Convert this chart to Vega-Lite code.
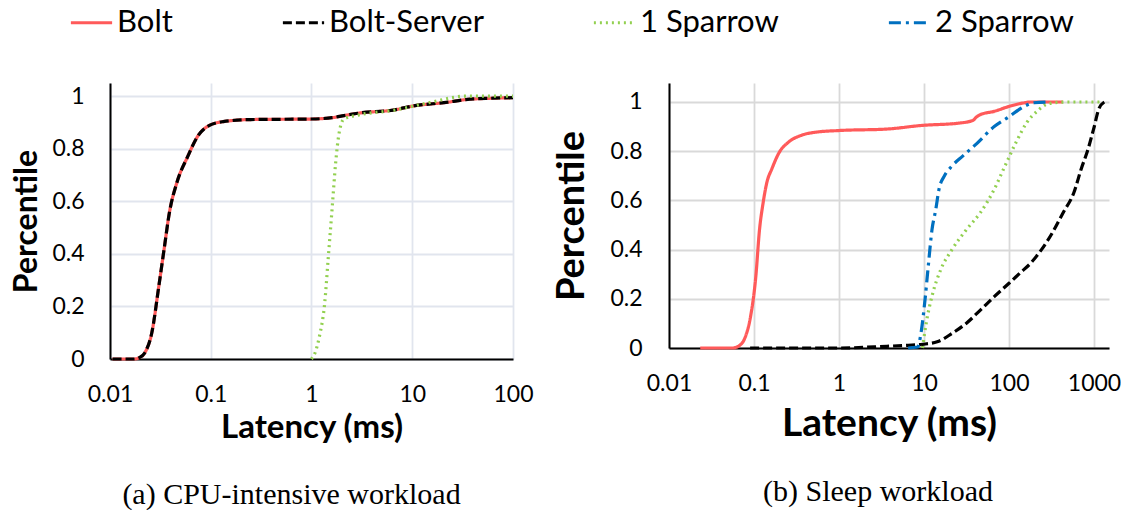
{
  "$schema": "https://vega.github.io/schema/vega-lite/v6.json",
  "background": "white",
  "padding": {"left": 10, "top": 0, "right": 0, "bottom": 0},
  "spacing": 19,
  "datasets": {
    "cpu": [
      {"series": "Bolt", "latency": 0.0106, "pct": 0},
      {"series": "Bolt", "latency": 0.0173, "pct": 0},
      {"series": "Bolt", "latency": 0.0195, "pct": 0.005},
      {"series": "Bolt", "latency": 0.0221, "pct": 0.023},
      {"series": "Bolt", "latency": 0.026, "pct": 0.1},
      {"series": "Bolt", "latency": 0.0306, "pct": 0.28},
      {"series": "Bolt", "latency": 0.0345, "pct": 0.42},
      {"series": "Bolt", "latency": 0.039, "pct": 0.56},
      {"series": "Bolt", "latency": 0.046, "pct": 0.67},
      {"series": "Bolt", "latency": 0.059, "pct": 0.77},
      {"series": "Bolt", "latency": 0.075, "pct": 0.85},
      {"series": "Bolt", "latency": 0.096, "pct": 0.888},
      {"series": "Bolt", "latency": 0.133, "pct": 0.903},
      {"series": "Bolt", "latency": 0.25, "pct": 0.911},
      {"series": "Bolt", "latency": 1.0, "pct": 0.913},
      {"series": "Bolt", "latency": 1.6, "pct": 0.918},
      {"series": "Bolt", "latency": 2.1, "pct": 0.926},
      {"series": "Bolt", "latency": 2.9, "pct": 0.935},
      {"series": "Bolt", "latency": 6.7, "pct": 0.948},
      {"series": "Bolt", "latency": 10, "pct": 0.962},
      {"series": "Bolt", "latency": 22.6, "pct": 0.977},
      {"series": "Bolt", "latency": 34, "pct": 0.987},
      {"series": "Bolt", "latency": 60, "pct": 0.992},
      {"series": "Bolt", "latency": 100, "pct": 0.994},
      {"series": "Bolt-Server", "latency": 0.0106, "pct": 0},
      {"series": "Bolt-Server", "latency": 0.0173, "pct": 0},
      {"series": "Bolt-Server", "latency": 0.0195, "pct": 0.005},
      {"series": "Bolt-Server", "latency": 0.0221, "pct": 0.023},
      {"series": "Bolt-Server", "latency": 0.026, "pct": 0.1},
      {"series": "Bolt-Server", "latency": 0.0306, "pct": 0.28},
      {"series": "Bolt-Server", "latency": 0.0345, "pct": 0.42},
      {"series": "Bolt-Server", "latency": 0.039, "pct": 0.56},
      {"series": "Bolt-Server", "latency": 0.046, "pct": 0.67},
      {"series": "Bolt-Server", "latency": 0.059, "pct": 0.77},
      {"series": "Bolt-Server", "latency": 0.075, "pct": 0.85},
      {"series": "Bolt-Server", "latency": 0.096, "pct": 0.888},
      {"series": "Bolt-Server", "latency": 0.133, "pct": 0.903},
      {"series": "Bolt-Server", "latency": 0.25, "pct": 0.911},
      {"series": "Bolt-Server", "latency": 1.0, "pct": 0.913},
      {"series": "Bolt-Server", "latency": 1.6, "pct": 0.918},
      {"series": "Bolt-Server", "latency": 2.1, "pct": 0.926},
      {"series": "Bolt-Server", "latency": 2.9, "pct": 0.935},
      {"series": "Bolt-Server", "latency": 6.7, "pct": 0.948},
      {"series": "Bolt-Server", "latency": 10, "pct": 0.962},
      {"series": "Bolt-Server", "latency": 22.6, "pct": 0.977},
      {"series": "Bolt-Server", "latency": 34, "pct": 0.987},
      {"series": "Bolt-Server", "latency": 60, "pct": 0.992},
      {"series": "Bolt-Server", "latency": 100, "pct": 0.994},
      {"series": "1 Sparrow", "latency": 1.0, "pct": 0},
      {"series": "1 Sparrow", "latency": 1.1, "pct": 0.03},
      {"series": "1 Sparrow", "latency": 1.2, "pct": 0.087},
      {"series": "1 Sparrow", "latency": 1.35, "pct": 0.21},
      {"series": "1 Sparrow", "latency": 1.47, "pct": 0.39},
      {"series": "1 Sparrow", "latency": 1.6, "pct": 0.57},
      {"series": "1 Sparrow", "latency": 1.74, "pct": 0.75},
      {"series": "1 Sparrow", "latency": 1.88, "pct": 0.86},
      {"series": "1 Sparrow", "latency": 2.1, "pct": 0.913},
      {"series": "1 Sparrow", "latency": 2.9, "pct": 0.928},
      {"series": "1 Sparrow", "latency": 6.7, "pct": 0.947},
      {"series": "1 Sparrow", "latency": 15.4, "pct": 0.977},
      {"series": "1 Sparrow", "latency": 34, "pct": 1.0},
      {"series": "1 Sparrow", "latency": 100, "pct": 1.0}
    ],
    "sleep": [
      {"series": "Bolt", "latency": 0.0233, "pct": 0},
      {"series": "Bolt", "latency": 0.056, "pct": 0},
      {"series": "Bolt", "latency": 0.068, "pct": 0.011},
      {"series": "Bolt", "latency": 0.079, "pct": 0.045},
      {"series": "Bolt", "latency": 0.091, "pct": 0.127},
      {"series": "Bolt", "latency": 0.105, "pct": 0.29},
      {"series": "Bolt", "latency": 0.116, "pct": 0.48},
      {"series": "Bolt", "latency": 0.128, "pct": 0.59},
      {"series": "Bolt", "latency": 0.141, "pct": 0.67},
      {"series": "Bolt", "latency": 0.163, "pct": 0.73},
      {"series": "Bolt", "latency": 0.198, "pct": 0.795},
      {"series": "Bolt", "latency": 0.253, "pct": 0.836},
      {"series": "Bolt", "latency": 0.356, "pct": 0.864},
      {"series": "Bolt", "latency": 0.525, "pct": 0.877},
      {"series": "Bolt", "latency": 1.0, "pct": 0.884},
      {"series": "Bolt", "latency": 3.65, "pct": 0.89},
      {"series": "Bolt", "latency": 9.6, "pct": 0.905},
      {"series": "Bolt", "latency": 25.5, "pct": 0.914},
      {"series": "Bolt", "latency": 37.6, "pct": 0.925},
      {"series": "Bolt", "latency": 41.4, "pct": 0.939},
      {"series": "Bolt", "latency": 45.6, "pct": 0.948},
      {"series": "Bolt", "latency": 67, "pct": 0.962},
      {"series": "Bolt", "latency": 100, "pct": 0.982},
      {"series": "Bolt", "latency": 147, "pct": 0.996},
      {"series": "Bolt", "latency": 180, "pct": 1.0},
      {"series": "Bolt", "latency": 430, "pct": 1.0},
      {"series": "Bolt-Server", "latency": 0.09, "pct": 0},
      {"series": "Bolt-Server", "latency": 1, "pct": 0},
      {"series": "Bolt-Server", "latency": 3.65, "pct": 0.007},
      {"series": "Bolt-Server", "latency": 6.5, "pct": 0.011},
      {"series": "Bolt-Server", "latency": 9.6, "pct": 0.015},
      {"series": "Bolt-Server", "latency": 14.3, "pct": 0.025},
      {"series": "Bolt-Server", "latency": 21.3, "pct": 0.059},
      {"series": "Bolt-Server", "latency": 31.3, "pct": 0.1},
      {"series": "Bolt-Server", "latency": 46, "pct": 0.154},
      {"series": "Bolt-Server", "latency": 67, "pct": 0.209},
      {"series": "Bolt-Server", "latency": 100, "pct": 0.263},
      {"series": "Bolt-Server", "latency": 134, "pct": 0.304},
      {"series": "Bolt-Server", "latency": 180, "pct": 0.345},
      {"series": "Bolt-Server", "latency": 241, "pct": 0.4},
      {"series": "Bolt-Server", "latency": 323, "pct": 0.468},
      {"series": "Bolt-Server", "latency": 433, "pct": 0.55},
      {"series": "Bolt-Server", "latency": 580, "pct": 0.632},
      {"series": "Bolt-Server", "latency": 705, "pct": 0.727},
      {"series": "Bolt-Server", "latency": 852, "pct": 0.809},
      {"series": "Bolt-Server", "latency": 990, "pct": 0.891},
      {"series": "Bolt-Server", "latency": 1143, "pct": 0.973},
      {"series": "Bolt-Server", "latency": 1320, "pct": 1.0},
      {"series": "1 Sparrow", "latency": 9.6, "pct": 0},
      {"series": "1 Sparrow", "latency": 10.6, "pct": 0.1},
      {"series": "1 Sparrow", "latency": 12.4, "pct": 0.21},
      {"series": "1 Sparrow", "latency": 15.8, "pct": 0.32},
      {"series": "1 Sparrow", "latency": 21.3, "pct": 0.4},
      {"series": "1 Sparrow", "latency": 31.3, "pct": 0.48},
      {"series": "1 Sparrow", "latency": 46, "pct": 0.55},
      {"series": "1 Sparrow", "latency": 67, "pct": 0.645},
      {"series": "1 Sparrow", "latency": 89.6, "pct": 0.74},
      {"series": "1 Sparrow", "latency": 121, "pct": 0.836},
      {"series": "1 Sparrow", "latency": 163, "pct": 0.918},
      {"series": "1 Sparrow", "latency": 220, "pct": 0.966},
      {"series": "1 Sparrow", "latency": 290, "pct": 0.993},
      {"series": "1 Sparrow", "latency": 475, "pct": 1.0},
      {"series": "1 Sparrow", "latency": 1240, "pct": 1.0},
      {"series": "2 Sparrow", "latency": 6.5, "pct": 0},
      {"series": "2 Sparrow", "latency": 8.4, "pct": 0.004},
      {"series": "2 Sparrow", "latency": 9.3, "pct": 0.07},
      {"series": "2 Sparrow", "latency": 10.3, "pct": 0.2},
      {"series": "2 Sparrow", "latency": 11.2, "pct": 0.33},
      {"series": "2 Sparrow", "latency": 12.4, "pct": 0.48},
      {"series": "2 Sparrow", "latency": 13.7, "pct": 0.56},
      {"series": "2 Sparrow", "latency": 15, "pct": 0.645},
      {"series": "2 Sparrow", "latency": 17.4, "pct": 0.7},
      {"series": "2 Sparrow", "latency": 21.3, "pct": 0.74},
      {"series": "2 Sparrow", "latency": 28.5, "pct": 0.78},
      {"series": "2 Sparrow", "latency": 41.4, "pct": 0.83},
      {"series": "2 Sparrow", "latency": 67, "pct": 0.9},
      {"series": "2 Sparrow", "latency": 100, "pct": 0.94},
      {"series": "2 Sparrow", "latency": 147, "pct": 0.98},
      {"series": "2 Sparrow", "latency": 197, "pct": 0.997},
      {"series": "2 Sparrow", "latency": 290, "pct": 1.0}
    ]
  },
  "hconcat": [
    {
      "width": 403,
      "height": 276,
      "data": {"name": "cpu"},
      "title": {"text": "(a) CPU-intensive workload", "orient": "bottom", "frame": "group", "anchor": "middle", "dx": -20, "offset": 36, "font": "Liberation Serif", "fontSize": 30, "fontWeight": "normal", "color": "black"},
      "mark": {"type": "line", "strokeWidth": 3.2, "interpolate": "monotone"},
      "encoding": {
        "x": {"field": "latency", "type": "quantitative", "scale": {"type": "log", "domain": [0.01, 100], "nice": false},
          "axis": {"title": "Latency (ms)", "values": [0.01, 0.1, 1, 10, 100], "format": "~g", "labelPadding": 24, "titlePadding": 5, "titleFontSize": 33, "gridColor": "#e1e5ee"}},
        "y": {"field": "pct", "type": "quantitative", "scale": {"domain": [0, 1.05], "nice": false, "zero": true},
          "axis": {"title": "Percentile", "values": [0, 0.2, 0.4, 0.6, 0.8, 1], "format": "~g", "labelPadding": 26, "titlePadding": 8, "titleFontSize": 32, "gridColor": "#e1e5ee"}},
        "color": {"field": "series", "type": "nominal",
          "scale": {"domain": ["Bolt", "Bolt-Server", "1 Sparrow", "2 Sparrow"], "range": ["#ff5a5a", "#000000", "#92d050", "#0070c0"]},
          "legend": {"orient": "none", "legendX": -41, "legendY": -83, "direction": "horizontal", "title": null}},
        "strokeDash": {"field": "series", "type": "nominal",
          "scale": {"domain": ["Bolt", "Bolt-Server", "1 Sparrow", "2 Sparrow"], "range": [[1, 0], [9, 4], [2, 4], [12, 5, 3, 5]]},
          "legend": {"orient": "none", "legendX": -41, "legendY": -83, "direction": "horizontal", "title": null}}
      }
    },
    {
      "width": 440,
      "height": 265,
      "data": {"name": "sleep"},
      "title": {"text": "(b) Sleep workload", "orient": "bottom", "frame": "group", "anchor": "middle", "dx": -11, "offset": 34, "font": "Liberation Serif", "fontSize": 30, "fontWeight": "normal", "color": "black"},
      "mark": {"type": "line", "strokeWidth": 3.2, "interpolate": "monotone"},
      "encoding": {
        "x": {"field": "latency", "type": "quantitative", "scale": {"type": "log", "domain": [0.01, 1500], "nice": false},
          "axis": {"title": "Latency (ms)", "values": [0.01, 0.1, 1, 10, 100, 1000], "format": "~g", "labelPadding": 24, "titlePadding": 9, "titleFontSize": 39, "gridColor": "#d9d9d9"}},
        "y": {"field": "pct", "type": "quantitative", "scale": {"domain": [0, 1.0772], "nice": false, "zero": true},
          "axis": {"title": "Percentile", "values": [0, 0.2, 0.4, 0.6, 0.8, 1], "format": "~g", "labelPadding": 27, "titlePadding": 18, "titleFontSize": 38, "gridColor": "#d9d9d9"}},
        "color": {"field": "series", "type": "nominal",
          "scale": {"domain": ["Bolt", "Bolt-Server", "1 Sparrow", "2 Sparrow"], "range": ["#ff5a5a", "#000000", "#92d050", "#0070c0"]},
          "legend": {"orient": "none", "legendX": -41, "legendY": -83, "direction": "horizontal", "title": null}},
        "strokeDash": {"field": "series", "type": "nominal",
          "scale": {"domain": ["Bolt", "Bolt-Server", "1 Sparrow", "2 Sparrow"], "range": [[1, 0], [9, 4], [2, 4], [12, 5, 3, 5]]},
          "legend": {"orient": "none", "legendX": -41, "legendY": -83, "direction": "horizontal", "title": null}}
      }
    }
  ],
  "resolve": {"scale": {"color": "shared", "strokeDash": "shared", "x": "independent", "y": "independent"}, "legend": {"color": "shared", "strokeDash": "shared"}},
  "config": {
    "view": {"stroke": null},
    "axis": {
      "domainColor": "#000000", "domainWidth": 2, "gridWidth": 1.8, "ticks": false,
      "labelFont": "Lato", "labelFontSize": 23, "labelColor": "#000000", "labelFlush": false, "labelOverlap": false, "labelBound": false,
      "titleFont": "Lato", "titleFontWeight": "bold", "titleColor": "#000000"
    },
    "legend": {
      "symbolType": "stroke", "symbolSize": 1700, "symbolStrokeWidth": 3,
      "labelFont": "Lato", "labelFontSize": 31, "labelColor": "#000000", "labelOffset": 3,
      "columnPadding": 103, "padding": 0, "offset": 0, "labelLimit": 400
    }
  }
}
